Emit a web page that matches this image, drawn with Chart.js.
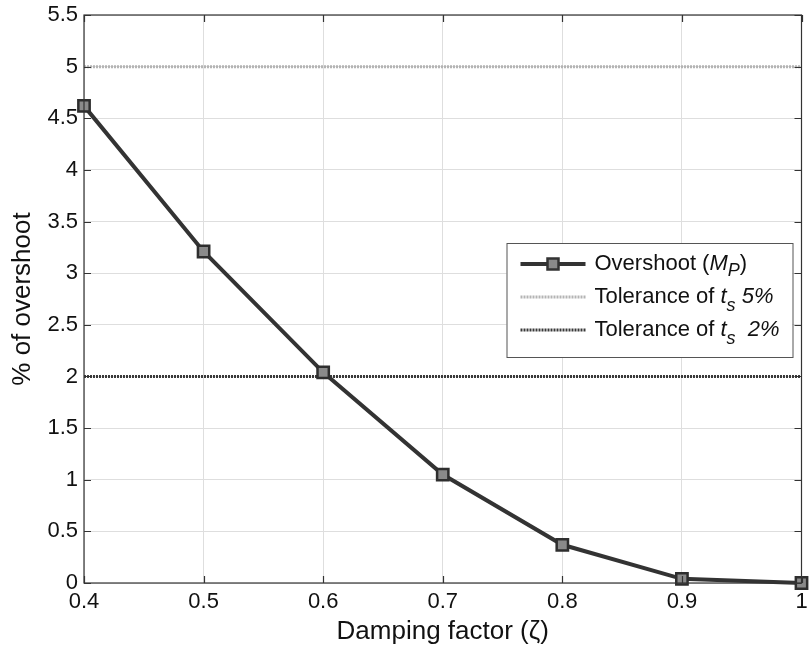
<!DOCTYPE html>
<html><head><meta charset="utf-8">
<script src="https://cdn.jsdelivr.net/npm/chart.js@4.4.1/dist/chart.umd.min.js"></script>
<style>html,body{margin:0;padding:0;background:#fff}#wrap{width:812px;height:650px}</style>
</head><body><div id="wrap"><canvas id="c" width="812" height="650"></canvas></div>
<script>
const dampingFactors = [0.4, 0.5, 0.6, 0.7, 0.8, 0.9, 1.0];
const overshootValues = [4.62, 3.21, 2.04, 1.05, 0.37, 0.04, 0.0];
const tolerance5 = 5;
const tolerance2 = 2;
const xTicks = [0.4, 0.5, 0.6, 0.7, 0.8, 0.9, 1.0];
const yTicks = [0, 0.5, 1, 1.5, 2, 2.5, 3, 3.5, 4, 4.5, 5, 5.5];

const FONT = '"Liberation Sans", Arial, sans-serif';
const fmt = v => { const r = Math.round(v * 10) / 10; return String(r); };

const frame = {
  id: 'frame',
  afterDatasetsDraw(chart) {
    const {ctx, chartArea: a} = chart;
    ctx.save();
    ctx.strokeStyle = '#333'; ctx.lineWidth = 1.2;
    ctx.strokeRect(a.left, a.top, a.right - a.left, a.bottom - a.top);
    const ys = chart.scales.y, xs = chart.scales.x;
    ctx.beginPath();
    yTicks.forEach(v => { const p = Math.round(ys.getPixelForValue(v)) + 0.5;
      ctx.moveTo(a.left, p); ctx.lineTo(a.left + 7, p);
      ctx.moveTo(a.right, p); ctx.lineTo(a.right - 7, p); });
    xTicks.forEach(v => { const p = Math.round(xs.getPixelForValue(v)) + 0.5;
      ctx.moveTo(p, a.bottom); ctx.lineTo(p, a.bottom - 7);
      ctx.moveTo(p, a.top); ctx.lineTo(p, a.top + 7); });
    ctx.stroke();
    ctx.restore();
  },
  afterDraw(chart) {
    const {ctx, chartArea: a} = chart;
    const bx = a.right - 295, by = a.top + 228, bw = 286, bh = 114;
    ctx.save();
    ctx.fillStyle = '#fff'; ctx.fillRect(bx, by, bw, bh);
    ctx.strokeStyle = '#555'; ctx.lineWidth = 1; ctx.strokeRect(bx + 0.5, by + 0.5, bw, bh);
    const ds = chart.data.datasets;
    const rows = [by + 21, by + 54, by + 87];
    const lx1 = bx + 14, lx2 = bx + 79, tx = bx + 88;
    ctx.strokeStyle = ds[0].borderColor; ctx.lineWidth = 4;
    ctx.beginPath(); ctx.moveTo(lx1, rows[0]); ctx.lineTo(lx2, rows[0]); ctx.stroke();
    ctx.fillStyle = ds[0].pointBackgroundColor; ctx.lineWidth = 2.5;
    const mx = (lx1 + lx2) / 2;
    ctx.fillRect(mx - 5.5, rows[0] - 5.5, 11, 11);
    ctx.strokeRect(mx - 5.5, rows[0] - 5.5, 11, 11);
    [1, 2].forEach((k, i) => {
      ctx.strokeStyle = ds[k].borderColor; ctx.lineWidth = ds[k].borderWidth;
      ctx.setLineDash(ds[k].borderDash);
      ctx.beginPath(); ctx.moveTo(lx1, rows[i + 1]); ctx.lineTo(lx2, rows[i + 1]); ctx.stroke();
      ctx.setLineDash([]);
    });
    ctx.fillStyle = '#111'; ctx.textBaseline = 'middle';
    const seg = (parts, y) => {
      let x = tx;
      parts.forEach(([t, style, dy, size]) => {
        ctx.font = (style ? 'italic ' : '') + (size || 22) + 'px ' + FONT;
        ctx.fillText(t, x, y + (dy || 0));
        x += ctx.measureText(t).width;
      });
    };
    seg([['Overshoot (', 0], ['M', 1], ['P', 1, 7, 18], [')', 0]], rows[0]);
    seg([['Tolerance of ', 0], ['t', 1], ['s', 1, 9, 18], [' 5%', 1]], rows[1]);
    seg([['Tolerance of ', 0], ['t', 1], ['s', 1, 9, 18], ['  2%', 1]], rows[2]);
    ctx.restore();
  }
};

new Chart(document.getElementById('c'), {
  type: 'line',
  data: {
    datasets: [
      { label: 'Overshoot (M_P)', data: dampingFactors.map((x, i) => ({x, y: overshootValues[i]})),
        borderColor: '#333', borderWidth: 4, pointStyle: 'rect', pointRadius: 8,
        pointBackgroundColor: '#8a8a8a', pointBorderColor: '#2e2e2e', pointBorderWidth: 2.5, order: 0, clip: false },
      { label: 'Tolerance of t_s 5%', data: [{x: dampingFactors[0], y: tolerance5}, {x: dampingFactors[dampingFactors.length-1], y: tolerance5}],
        borderColor: '#b4b4b4', borderWidth: 3, borderDash: [2, 1], pointRadius: 0, order: 2 },
      { label: 'Tolerance of t_s 2%', data: [{x: dampingFactors[0], y: tolerance2}, {x: dampingFactors[dampingFactors.length-1], y: tolerance2}],
        borderColor: '#3a3a3a', borderWidth: 3, borderDash: [2, 1], pointRadius: 0, order: 1 }
    ]
  },
  options: {
    responsive: false, animation: false,
    layout: { padding: { top: 15, right: 8, left: 0, bottom: 0 } },
    plugins: { legend: { display: false }, tooltip: { enabled: false } },
    scales: {
      x: { type: 'linear', min: 0.4, max: 1,
        afterBuildTicks: s => { s.ticks = xTicks.map(v => ({value: v})); },
        afterFit: s => { s.height = 67; s.paddingLeft = 0; s.paddingRight = 0; },
        ticks: { callback: v => fmt(v), color: '#111', font: { family: FONT, size: 22 }, padding: 6, maxRotation: 0 },
        grid: { color: '#dedede', lineWidth: 1, drawTicks: false },
        border: { display: false },
        title: { display: true, text: 'Damping factor (ζ)', color: '#111', font: { family: FONT, size: 26 }, padding: { top: 0, bottom: 3 } } },
      y: { type: 'linear', min: 0, max: 5.5,
        afterBuildTicks: s => { s.ticks = yTicks.map(v => ({value: v})); },
        afterFit: s => { s.width = 84; s.paddingTop = 0; s.paddingBottom = 0; },
        ticks: { callback: v => String(v), color: '#111', font: { family: FONT, size: 22 }, padding: 6 },
        grid: { color: '#dedede', lineWidth: 1, drawTicks: false },
        border: { display: false },
        title: { display: true, text: '% of overshoot', color: '#111', font: { family: FONT, size: 26 }, padding: { top: 7, bottom: 0 } } }
    }
  },
  plugins: [frame]
});
</script></body></html>
